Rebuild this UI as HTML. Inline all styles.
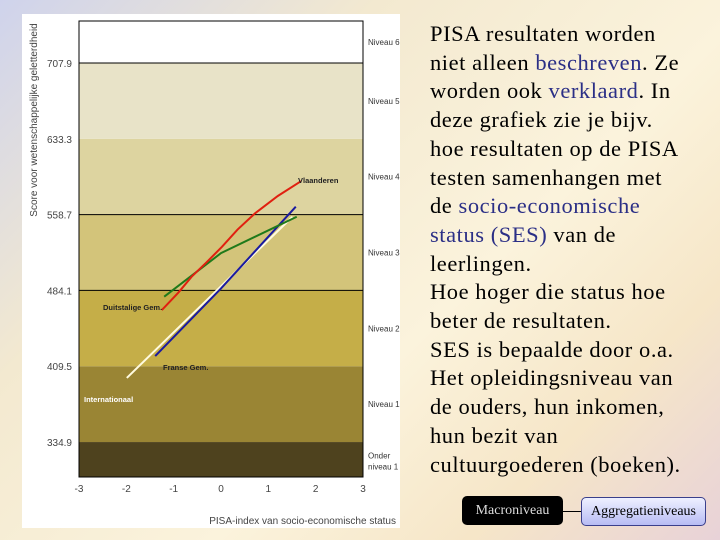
<!DOCTYPE html>
<html><head><meta charset="utf-8"><style>
body{margin:0;width:720px;height:540px;overflow:hidden;position:relative;font-family:"Liberation Sans",sans-serif;
background:linear-gradient(135deg,#cfd3ec 0%,#f3e9d0 30%,#fbf3dc 60%,#f6e6c8 80%,#e8d2d8 100%);}
#card{position:absolute;left:22px;top:14px;width:378px;height:514px;background:#fff;}
#txt{position:absolute;left:430px;top:20px;width:290px;white-space:nowrap;font-family:"Liberation Serif",serif;font-size:22.5px;letter-spacing:0.55px;line-height:28.7px;color:#000;}
.b{color:#2b2f86}
.btn{position:absolute;font-family:"Liberation Serif",serif;font-size:14px;display:flex;align-items:center;justify-content:center;border-radius:5px;}
</style></head><body>
<div id="card"></div>
<svg id="chart" width="720" height="540" style="position:absolute;left:0;top:0"></svg>
<div id="txt">PISA resultaten worden<br>niet alleen <span class="b">beschreven</span>. Ze<br>worden ook <span class="b">verklaard</span>. In<br>deze grafiek zie je bijv.<br>hoe resultaten op de PISA<br>testen samenhangen met<br>de <span class="b">socio-economische</span><br><span class="b">status (SES)</span> van de<br>leerlingen.<br>Hoe hoger die status hoe<br>beter de resultaten.<br>SES is bepaalde door o.a.<br>Het opleidingsniveau van<br>de ouders, hun inkomen,<br>hun bezit van<br>cultuurgoederen (boeken).</div>
<div style="position:absolute;left:563px;top:511px;width:18px;height:1px;background:#000"></div>
<div class="btn" style="left:462px;top:496px;width:101px;height:29px;background:#000;color:#ddd;">Macroniveau</div>
<div class="btn" style="left:581px;top:497px;width:123px;height:27px;background:linear-gradient(#eef0ff,#b8bcf4);border:1px solid #3a3f8c;color:#000;">Aggregatieniveaus</div>
<script>
const xTicks=[-3,-2,-1,0,1,2,3];
const yTicks=[334.9,409.5,484.1,558.7,633.3,707.9];
const bandLabels=["Onder niveau 1","Niveau 1","Niveau 2","Niveau 3","Niveau 4","Niveau 5","Niveau 6"];
const bandColors=["#4e421e","#9a8534","#c5ae48","#d3c47a","#ddd4a0","#e8e3c8","#ffffff"];
const seriesNames=["Vlaanderen","Duitstalige Gem.","Franse Gem.","Internationaal"];
const seriesColors=["#e02010","#1f7a1a","#1a1aa0","#fffbe0"];
const vlX=[-1.25,-0.9,-0.62,-0.3,0.02,0.35,0.72,1.2,1.69], vlY=[464.8,482,497.6,512,527,544,560,577,591.6];
const duX=[-1.2,0,1.6], duY=[477.9,520.8,556.6];
const frX=[-1.39,0,1.58], frY=[419.5,486,566.5];
const inX=[-1.99,1.51], inY=[398,556.6];
const X0=79,X1=363,Y0=477,Y1=21,YMIN=300.5,YMAX=749.2;
const sx=v=>X0+(v+3)/6*(X1-X0);
const sy=v=>Y0-(v-YMIN)/(YMAX-YMIN)*(Y0-Y1);
const svg=document.getElementById('chart');const NS='http://www.w3.org/2000/svg';
function mk(t,a,p){const e=document.createElementNS(NS,t);for(const k in a)e.setAttribute(k,a[k]);(p||svg).appendChild(e);return e;}
const bounds=[YMIN].concat(yTicks).concat([YMAX]);
for(let i=0;i<bandColors.length;i++){
 const r=mk('rect',{x:X0,y:sy(bounds[i+1]),width:X1-X0,height:sy(bounds[i])-sy(bounds[i+1]),fill:bandColors[i]});
 
 
 const mid=(sy(bounds[i])+sy(bounds[i+1]))/2;
 const words=bandLabels[i].split(' ');
 if(words.length>2){
  const t=mk('text',{x:368,y:mid-1,'font-size':8,fill:'#333'});t.textContent='Onder';
  
  const t2=mk('text',{x:368,y:mid+10,'font-size':8,fill:'#333'});t2.textContent='niveau 1';
  
 } else {
  const t=mk('text',{x:368,y:mid+3,'font-size':8,fill:'#333'});t.textContent=bandLabels[i];
  
 }
}
[707.9,558.7,484.1].forEach(v=>{const l=mk('line',{x1:X0,x2:X1,y1:sy(v),y2:sy(v),stroke:'#000','stroke-width':1});
 });
const fr=mk('rect',{x:X0,y:Y1,width:X1-X0,height:Y0-Y1,fill:'none',stroke:'#000','stroke-width':1});

yTicks.forEach(v=>{const t=mk('text',{x:72,y:sy(v)+4,'font-size':10,'text-anchor':'end',fill:'#444'});t.textContent=v.toFixed(1);
 });
xTicks.forEach(v=>{const t=mk('text',{x:sx(v),y:Y0+15,'font-size':10,'text-anchor':'middle',fill:'#444'});t.textContent=v;
 });
const xt=mk('text',{x:396,y:524,'font-size':10,'text-anchor':'end',fill:'#444'});xt.textContent='PISA-index van socio-economische status';

const yt=mk('text',{x:0,y:0,'font-size':10,'text-anchor':'middle',fill:'#444',transform:'translate(37,120) rotate(-90)'});yt.textContent='Score voor wetenschappelijke geletterdheid';

const allX=[vlX,duX,frX,inX],allY=[vlY,duY,frY,inY];
const order=[3,2,1,0];
order.forEach(s=>{
 const pts=allX[s].map((x,i)=>sx(x)+','+sy(allY[s][i])).join(' ');
 const p=mk('polyline',{points:pts,fill:'none',stroke:seriesColors[s],'stroke-width':2});
 
 
});
const labs=[[0,298,183,'start','#222'],[1,103,310,'start','#222'],[2,163,370,'start','#222'],[3,84,402,'start','#fff']];
labs.forEach(([s,x,y,a,c])=>{const t=mk('text',{x:x,y:y,'font-size':7.5,'font-weight':'bold','text-anchor':a,fill:c});t.textContent=seriesNames[s];
 });
</script>
</body></html>
